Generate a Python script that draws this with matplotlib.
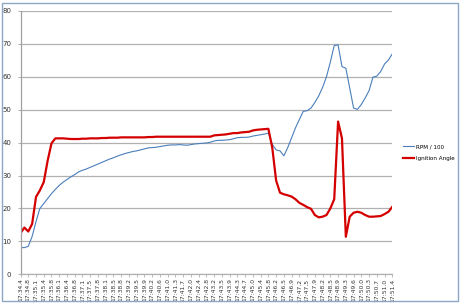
import matplotlib
matplotlib.use("Agg")
import matplotlib.pyplot as plt
import numpy as np
from matplotlib.patches import Rectangle

# time labels (every second sample is labelled)
time_labels = ["17:34.4", "17:34.8", "17:35.1", "17:35.4", "17:35.8", "17:36.1", "17:36.4",
               "17:36.8", "17:37.1", "17:37.5", "17:37.8", "17:38.1", "17:38.5", "17:38.8",
               "17:39.2", "17:39.5", "17:39.9", "17:40.2", "17:40.6", "17:41.0", "17:41.3",
               "17:41.7", "17:42.0", "17:42.4", "17:42.8", "17:43.2", "17:43.5", "17:43.9",
               "17:44.3", "17:44.7", "17:45.0", "17:45.4", "17:45.8", "17:46.2", "17:46.5",
               "17:46.9", "17:47.2", "17:47.5", "17:47.9", "17:48.2", "17:48.5", "17:48.9",
               "17:49.3", "17:49.6", "17:50.0", "17:50.3", "17:50.7", "17:51.0", "17:51.4"]

rpm = [8.1, 8.1, 8.5, 11.5, 16.0, 20.0, 21.5, 23.0, 24.5, 25.8,
       27.0, 28.0, 28.8, 29.6, 30.3, 31.1, 31.6, 32.0, 32.5, 33.0,
       33.5, 34.0, 34.5, 35.0, 35.4, 35.9, 36.3, 36.7, 37.0, 37.3,
       37.5, 37.8, 38.1, 38.4, 38.5, 38.6, 38.8, 39.0, 39.2, 39.3,
       39.3, 39.4, 39.3, 39.2, 39.4, 39.6, 39.7, 39.8, 39.9, 40.1,
       40.5, 40.7, 40.7, 40.8, 40.9, 41.2, 41.5, 41.6, 41.6, 41.7,
       42.0, 42.2, 42.4, 42.6, 42.9, 39.5, 37.8, 37.5, 36.0, 38.5,
       41.5, 44.5, 47.0, 49.5, 49.7, 50.5, 52.2, 54.2, 56.8, 60.0,
       64.5, 69.5, 69.7, 63.1, 62.6, 56.6, 50.5, 50.1, 51.6, 53.6,
       55.8, 59.9, 60.2, 61.6, 63.9, 65.1, 67.0]

ignition = [12.5, 14.2, 13.0, 15.3, 23.5, 25.5, 28.0, 34.5, 39.8, 41.3,
            41.3, 41.3, 41.2, 41.1, 41.1, 41.1, 41.2, 41.2, 41.3, 41.3,
            41.3, 41.4, 41.4, 41.5, 41.5, 41.5, 41.6, 41.6, 41.6, 41.6,
            41.6, 41.6, 41.6, 41.7, 41.7, 41.8, 41.8, 41.8, 41.8, 41.8,
            41.8, 41.8, 41.8, 41.8, 41.8, 41.8, 41.8, 41.8, 41.8, 41.8,
            42.2, 42.3, 42.4, 42.5, 42.7, 42.9, 42.9, 43.1, 43.2, 43.3,
            43.7, 43.9, 44.0, 44.1, 44.2, 38.5, 28.5, 24.8, 24.3, 24.0,
            23.6, 22.8, 21.7, 21.1, 20.4, 19.9, 18.0, 17.3, 17.5, 18.0,
            20.0, 22.8, 46.4, 41.3, 11.4, 17.5, 18.7, 19.0, 18.7, 18.0,
            17.5, 17.5, 17.6, 17.7, 18.3, 19.0, 20.5]

fig = plt.figure(figsize=(4.61, 3.05), dpi=100)
fig.patch.set_facecolor("white")

# chart area border
fig.patches.append(Rectangle((0.004, 0.012), 0.989, 0.978, transform=fig.transFigure,
                             fill=False, edgecolor="#8da6c4", linewidth=1.0))

ax = fig.add_axes([0.0445, 0.1007, 0.8065, 0.8633])
x = np.arange(len(rpm))
ax.plot(x, rpm, color="#4a7ebb", linewidth=0.8, label="RPM / 100")
ax.plot(x, ignition, color="#d40000", linewidth=1.6, label="Ignition Angle")

ax.set_xlim(0, len(rpm) - 1)
ax.set_ylim(0, 80)
ax.set_yticks(range(0, 81, 10))
ax.yaxis.grid(True, color="#b0b0b0", linewidth=0.9)
ax.set_axisbelow(True)

ax.set_xticks(x[::2])
ax.set_xticklabels(time_labels, rotation=90, fontsize=4.3, color="#333333")
ax.tick_params(axis="x", length=2, width=0.5, color="#a0a0a0", pad=1)
ax.tick_params(axis="y", length=2.5, width=0.6, color="#a0a0a0", labelsize=5, pad=4,
               labelcolor="#333333")

for s in ["top", "right"]:
    ax.spines[s].set_visible(False)
ax.spines["left"].set_color("#a0a0a0")
ax.spines["left"].set_linewidth(0.9)
ax.spines["bottom"].set_color("#b0b0b0")
ax.spines["bottom"].set_linewidth(0.9)

leg = ax.legend(loc="center left", bbox_to_anchor=(1.029, 0.461), frameon=False,
                fontsize=4.1, handlelength=2.0, handletextpad=0.3, labelspacing=1.2,
                borderpad=0, borderaxespad=0)

fig.savefig("out.png", dpi=100)
